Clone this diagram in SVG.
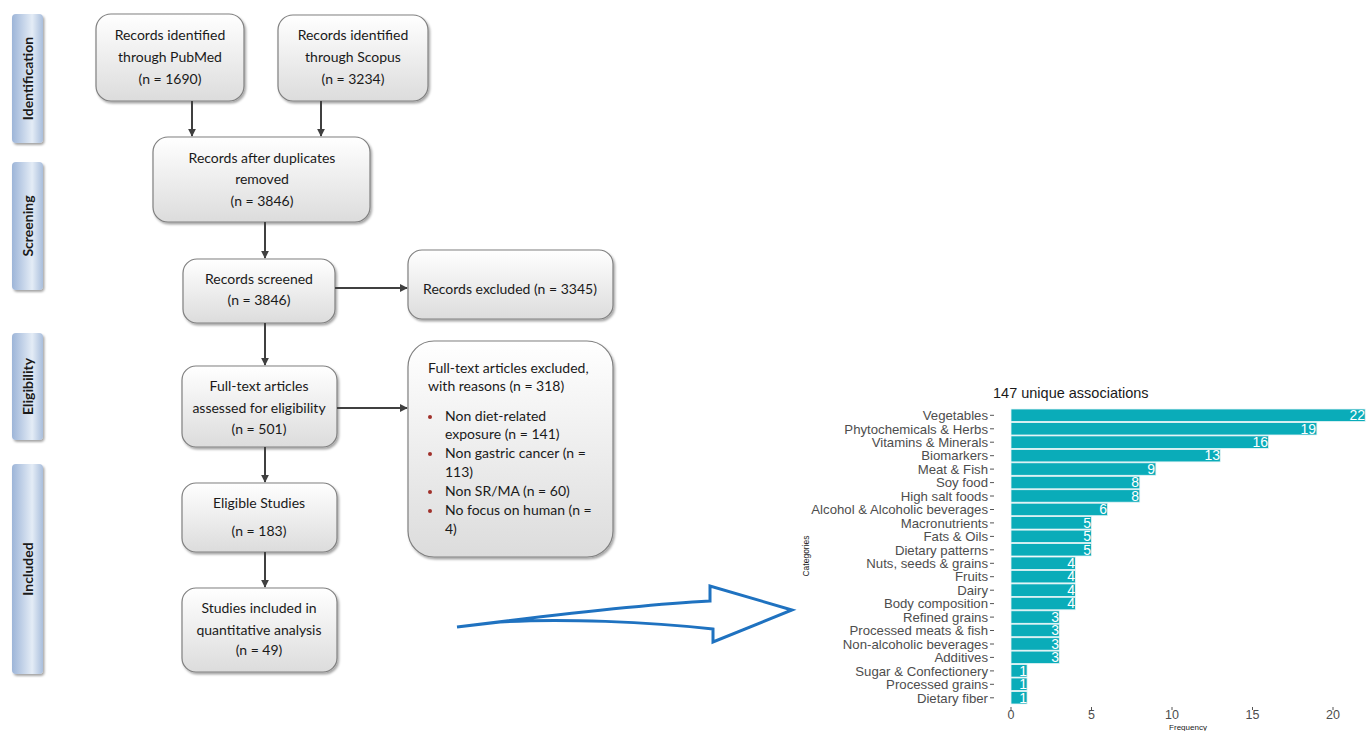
<svg xmlns="http://www.w3.org/2000/svg" width="1366" height="731" viewBox="0 0 1366 731">
<defs>
<linearGradient id="boxg" x1="0" y1="0" x2="0" y2="1"><stop offset="0" stop-color="#ffffff"/><stop offset="1" stop-color="#dcdcdc"/></linearGradient>
<linearGradient id="stageg" x1="0" y1="0" x2="1" y2="0"><stop offset="0" stop-color="#9db5d8"/><stop offset="0.65" stop-color="#e4ecf6"/><stop offset="1" stop-color="#a9bedc"/></linearGradient>
<filter id="sh" x="-10%" y="-10%" width="130%" height="130%"><feDropShadow dx="1.5" dy="2" stdDeviation="1.2" flood-color="#000" flood-opacity="0.35"/></filter>
<marker id="ah" viewBox="0 0 10 10" refX="9" refY="5" markerWidth="4" markerHeight="4" orient="auto"><path d="M0,0 L10,5 L0,10 Z" fill="#404040"/></marker>
</defs>
<style>
.box{fill:url(#boxg);stroke:#808080;stroke-width:1.2;filter:url(#sh)}
.stage{fill:url(#stageg);filter:url(#sh)}
.st{font-family:Lato,"Open Sans",sans-serif;font-weight:bold;font-size:14px;fill:#1a1a1a;text-anchor:middle}
.t{font-family:Lato,"Open Sans",sans-serif;font-size:14px;fill:#1a1a1a;text-anchor:middle}
.tl{font-family:Lato,"Open Sans",sans-serif;font-size:14px;fill:#1a1a1a}
.con{stroke:#404040;stroke-width:2;fill:none;marker-end:url(#ah)}
.bar{fill:#0aacb9;stroke:#e8f6f7;stroke-width:0.8}
.lab{font-family:"Liberation Sans",Arial,sans-serif;font-size:13.2px;fill:#4d4d4d;text-anchor:end}
.val{font-family:"Liberation Sans",Arial,sans-serif;font-size:14px;fill:#ffffff;text-anchor:end}
.tick{stroke:#555;stroke-width:1}
.ax{font-family:"Liberation Sans",Arial,sans-serif;font-size:12.5px;fill:#4d4d4d;text-anchor:middle}
</style>
<g id="stage-identification"><rect class="stage" x="12" y="14" width="31" height="129" rx="4"/><text class="st" transform="translate(33,78.5) rotate(-90)">Identification</text></g>
<g id="stage-screening"><rect class="stage" x="12" y="162" width="31" height="128" rx="4"/><text class="st" transform="translate(33,226) rotate(-90)">Screening</text></g>
<g id="stage-eligibility"><rect class="stage" x="12" y="333" width="31" height="107" rx="4"/><text class="st" transform="translate(33,386.5) rotate(-90)">Eligibility</text></g>
<g id="stage-included"><rect class="stage" x="12" y="464" width="31" height="210" rx="4"/><text class="st" transform="translate(33,569) rotate(-90)">Included</text></g>

<g id="pubmed"><rect class="box" x="96" y="14" width="148" height="87" rx="15"/><text class="t" x="170" y="40">Records identified</text><text class="t" x="170" y="62">through PubMed</text><text class="t" x="170" y="84">(n = 1690)</text></g>
<g id="scopus"><rect class="box" x="278" y="15" width="150" height="86" rx="15"/><text class="t" x="353" y="40">Records identified</text><text class="t" x="353" y="62">through Scopus</text><text class="t" x="353" y="84">(n = 3234)</text></g>
<g id="duplicates"><rect class="box" x="153" y="137" width="217" height="85" rx="15"/><text class="t" x="262" y="163">Records after duplicates</text><text class="t" x="262" y="184">removed</text><text class="t" x="262" y="206">(n = 3846)</text></g>
<g id="screened"><rect class="box" x="183" y="259" width="152" height="64" rx="14"/><text class="t" x="259" y="284">Records screened</text><text class="t" x="259" y="305">(n = 3846)</text></g>
<g id="excluded"><rect class="box" x="408" y="250" width="205" height="69" rx="14"/><text class="t" x="510" y="294">Records excluded (n = 3345)</text></g>
<g id="fulltext"><rect class="box" x="182" y="366" width="155" height="81" rx="14"/><text class="t" x="259" y="391">Full-text articles</text><text class="t" x="259" y="413">assessed for eligibility</text><text class="t" x="259" y="434">(n = 501)</text></g>
<g id="fulltext-excluded"><rect class="box" x="408" y="341" width="205" height="216" rx="26"/>
<text class="tl" x="428" y="373">Full-text articles excluded,</text><text class="tl" x="428" y="391">with reasons (n = 318)</text>
<circle cx="430" cy="417" r="2" fill="#a0302a"/><text class="tl" x="445" y="421">Non diet-related</text><text class="tl" x="445" y="439">exposure (n = 141)</text>
<circle cx="430" cy="454" r="2" fill="#a0302a"/><text class="tl" x="445" y="458">Non gastric cancer (n =</text><text class="tl" x="445" y="477">113)</text>
<circle cx="430" cy="492" r="2" fill="#a0302a"/><text class="tl" x="445" y="496">Non SR/MA (n = 60)</text>
<circle cx="430" cy="511" r="2" fill="#a0302a"/><text class="tl" x="445" y="515">No focus on human (n =</text><text class="tl" x="445" y="534">4)</text></g>
<g id="eligible"><rect class="box" x="182" y="483" width="155" height="69" rx="14"/><text class="t" x="259" y="508">Eligible Studies</text><text class="t" x="259" y="536">(n = 183)</text></g>
<g id="included"><rect class="box" x="182" y="588" width="155" height="84" rx="14"/><text class="t" x="259" y="613">Studies included in</text><text class="t" x="259" y="635">quantitative analysis</text><text class="t" x="259" y="655">(n = 49)</text></g>

<g id="connectors">
<line class="con" x1="192" y1="101" x2="192" y2="136"/>
<line class="con" x1="321" y1="101" x2="321" y2="136"/>
<line class="con" x1="265" y1="222" x2="265" y2="258"/>
<line class="con" x1="335" y1="288" x2="407" y2="288"/>
<line class="con" x1="265" y1="323" x2="265" y2="365"/>
<line class="con" x1="337" y1="408" x2="407" y2="408"/>
<line class="con" x1="265" y1="447" x2="265" y2="482"/>
<line class="con" x1="265" y1="552" x2="265" y2="587"/>
<path d="M457,627 C560,614 650,604 710,601 L710,586 L792,610 L713,642 L713,629 C650,622 560,618 500,622 Z" fill="none" stroke="#1f72c0" stroke-width="3" stroke-linejoin="miter"/>
</g>

<g id="chart">
<text x="993" y="398" font-family="'Liberation Sans',Arial,sans-serif" font-size="14.5" fill="#1a1a1a">147 unique associations</text>
<text transform="translate(809,556) rotate(-90)" font-family="'Liberation Sans',Arial,sans-serif" font-size="8.5" fill="#1a1a1a" text-anchor="middle">Categories</text>
<text x="1188" y="729.5" font-family="'Liberation Sans',Arial,sans-serif" font-size="8" fill="#1a1a1a" text-anchor="middle">Frequency</text>
<g id="bars">
<rect class="bar" x="1011" y="409.0" width="354.2" height="12.5"/><text class="val" x="1365" y="420">22</text><text class="lab" x="988" y="420">Vegetables</text><line class="tick" x1="990" y1="415.3" x2="994" y2="415.3"/>
<rect class="bar" x="1011" y="422.5" width="305.9" height="12.5"/><text class="val" x="1316" y="433.5">19</text><text class="lab" x="988" y="433.5">Phytochemicals &amp; Herbs</text><line class="tick" x1="990" y1="428.8" x2="994" y2="428.8"/>
<rect class="bar" x="1011" y="435.9" width="257.6" height="12.5"/><text class="val" x="1268" y="446.9">16</text><text class="lab" x="988" y="446.9">Vitamins &amp; Minerals</text><line class="tick" x1="990" y1="442.2" x2="994" y2="442.2"/>
<rect class="bar" x="1011" y="449.4" width="209.3" height="12.5"/><text class="val" x="1220" y="460.4">13</text><text class="lab" x="988" y="460.4">Biomarkers</text><line class="tick" x1="990" y1="455.7" x2="994" y2="455.7"/>
<rect class="bar" x="1011" y="462.8" width="144.9" height="12.5"/><text class="val" x="1155" y="473.8">9</text><text class="lab" x="988" y="473.8">Meat &amp; Fish</text><line class="tick" x1="990" y1="469.1" x2="994" y2="469.1"/>
<rect class="bar" x="1011" y="476.3" width="128.8" height="12.5"/><text class="val" x="1139" y="487.3">8</text><text class="lab" x="988" y="487.3">Soy food</text><line class="tick" x1="990" y1="482.6" x2="994" y2="482.6"/>
<rect class="bar" x="1011" y="489.7" width="128.8" height="12.5"/><text class="val" x="1139" y="500.7">8</text><text class="lab" x="988" y="500.7">High salt foods</text><line class="tick" x1="990" y1="496.0" x2="994" y2="496.0"/>
<rect class="bar" x="1011" y="503.2" width="96.6" height="12.5"/><text class="val" x="1107" y="514.2">6</text><text class="lab" x="988" y="514.2">Alcohol &amp; Alcoholic beverages</text><line class="tick" x1="990" y1="509.5" x2="994" y2="509.5"/>
<rect class="bar" x="1011" y="516.6" width="80.5" height="12.5"/><text class="val" x="1091" y="527.6">5</text><text class="lab" x="988" y="527.6">Macronutrients</text><line class="tick" x1="990" y1="522.9" x2="994" y2="522.9"/>
<rect class="bar" x="1011" y="530.1" width="80.5" height="12.5"/><text class="val" x="1091" y="541.1">5</text><text class="lab" x="988" y="541.1">Fats &amp; Oils</text><line class="tick" x1="990" y1="536.4" x2="994" y2="536.4"/>
<rect class="bar" x="1011" y="543.5" width="80.5" height="12.5"/><text class="val" x="1091" y="554.5">5</text><text class="lab" x="988" y="554.5">Dietary patterns</text><line class="tick" x1="990" y1="549.8" x2="994" y2="549.8"/>
<rect class="bar" x="1011" y="557.0" width="64.4" height="12.5"/><text class="val" x="1075" y="568">4</text><text class="lab" x="988" y="568">Nuts, seeds &amp; grains</text><line class="tick" x1="990" y1="563.3" x2="994" y2="563.3"/>
<rect class="bar" x="1011" y="570.4" width="64.4" height="12.5"/><text class="val" x="1075" y="581.4">4</text><text class="lab" x="988" y="581.4">Fruits</text><line class="tick" x1="990" y1="576.7" x2="994" y2="576.7"/>
<rect class="bar" x="1011" y="583.9" width="64.4" height="12.5"/><text class="val" x="1075" y="594.9">4</text><text class="lab" x="988" y="594.9">Dairy</text><line class="tick" x1="990" y1="590.2" x2="994" y2="590.2"/>
<rect class="bar" x="1011" y="597.3" width="64.4" height="12.5"/><text class="val" x="1075" y="608.3">4</text><text class="lab" x="988" y="608.3">Body composition</text><line class="tick" x1="990" y1="603.6" x2="994" y2="603.6"/>
<rect class="bar" x="1011" y="610.8" width="48.3" height="12.5"/><text class="val" x="1059" y="621.8">3</text><text class="lab" x="988" y="621.8">Refined grains</text><line class="tick" x1="990" y1="617.1" x2="994" y2="617.1"/>
<rect class="bar" x="1011" y="624.2" width="48.3" height="12.5"/><text class="val" x="1059" y="635.2">3</text><text class="lab" x="988" y="635.2">Processed meats &amp; fish</text><line class="tick" x1="990" y1="630.5" x2="994" y2="630.5"/>
<rect class="bar" x="1011" y="637.7" width="48.3" height="12.5"/><text class="val" x="1059" y="648.7">3</text><text class="lab" x="988" y="648.7">Non-alcoholic beverages</text><line class="tick" x1="990" y1="644.0" x2="994" y2="644.0"/>
<rect class="bar" x="1011" y="651.1" width="48.3" height="12.5"/><text class="val" x="1059" y="662.1">3</text><text class="lab" x="988" y="662.1">Additives</text><line class="tick" x1="990" y1="657.4" x2="994" y2="657.4"/>
<rect class="bar" x="1011" y="664.6" width="16.1" height="12.5"/><text class="val" x="1027" y="675.6">1</text><text class="lab" x="988" y="675.6">Sugar &amp; Confectionery</text><line class="tick" x1="990" y1="670.9" x2="994" y2="670.9"/>
<rect class="bar" x="1011" y="678.0" width="16.1" height="12.5"/><text class="val" x="1027" y="689">1</text><text class="lab" x="988" y="689">Processed grains</text><line class="tick" x1="990" y1="684.3" x2="994" y2="684.3"/>
<rect class="bar" x="1011" y="691.5" width="16.1" height="12.5"/><text class="val" x="1027" y="702.5">1</text><text class="lab" x="988" y="702.5">Dietary fiber</text><line class="tick" x1="990" y1="697.8" x2="994" y2="697.8"/>
</g>
<g id="xaxis">
<line class="tick" x1="1011" y1="707" x2="1011" y2="710"/><text class="ax" x="1011" y="719">0</text>
<line class="tick" x1="1091.5" y1="707" x2="1091.5" y2="710"/><text class="ax" x="1091.5" y="719">5</text>
<line class="tick" x1="1172" y1="707" x2="1172" y2="710"/><text class="ax" x="1172" y="719">10</text>
<line class="tick" x1="1252.5" y1="707" x2="1252.5" y2="710"/><text class="ax" x="1252.5" y="719">15</text>
<line class="tick" x1="1333" y1="707" x2="1333" y2="710"/><text class="ax" x="1333" y="719">20</text>
</g>
</g>
</svg>
